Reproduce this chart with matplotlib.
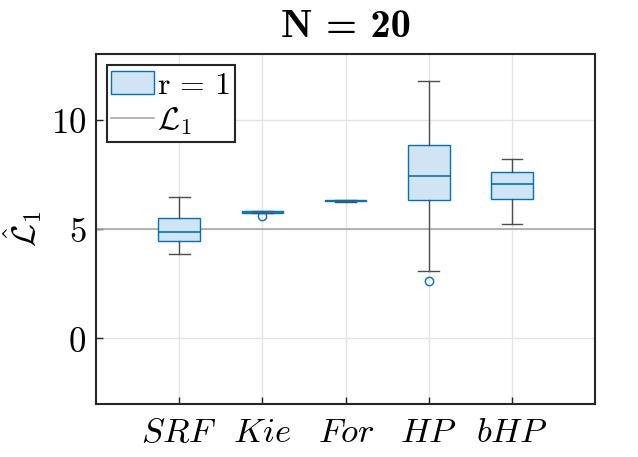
import matplotlib
matplotlib.use("Agg")
import matplotlib.pyplot as plt
from matplotlib.patches import Patch
from matplotlib.lines import Line2D

plt.rcParams['mathtext.fontset'] = 'cm'
plt.rcParams['font.family'] = ['DejaVu Serif']

categories = ['SRF', 'Kie', 'For', 'HP', 'bHP']
whislo = [3.86, 5.72, 6.25, 3.08, 5.21]
q1 = [4.47, 5.74, 6.27, 6.32, 6.36]
med = [4.88, 5.77, 6.29, 7.42, 7.05]
q3 = [5.49, 5.80, 6.31, 8.82, 7.61]
whishi = [6.47, 5.82, 6.33, 11.74, 8.18]
fliers = [[], [5.6], [], [2.6], []]
ref_value = 5.0
yticks = [0, 5, 10]

blue = '#0072BD'
face = (0.82, 0.894, 0.953)

fig = plt.figure(figsize=(6.38, 4.57), dpi=100)
ax = fig.add_axes([0.1505, 0.116, 0.7825, 0.766])

stats = []
for i, c in enumerate(categories):
    stats.append(dict(label=c, whislo=whislo[i], q1=q1[i], med=med[i], q3=q3[i],
                      whishi=whishi[i], fliers=fliers[i]))

ax.grid(True, color='#e3e3e8', linewidth=1.0, zorder=0)
ax.set_axisbelow(True)

ax.axhline(ref_value, color='#a8a8a8', linewidth=1.2, zorder=1)

ax.bxp(stats, positions=range(1, 6), widths=0.5, patch_artist=True,
       boxprops=dict(facecolor=face, edgecolor=blue, linewidth=1.0),
       medianprops=dict(color=blue, linewidth=1.2),
       whiskerprops=dict(color='#4d4d4d', linewidth=1.0),
       capprops=dict(color='#4d4d4d', linewidth=1.0),
       flierprops=dict(marker='o', markerfacecolor='none', markeredgecolor=blue,
                       markersize=6, markeredgewidth=1.0),
       capwidths=0.25, zorder=3)

ax.set_xlim(0, 6)
ax.set_ylim(-3, 13)
ax.set_xticks(range(1, 6))
ax.set_xticklabels(['$' + c + '$' for c in categories], fontsize=25)
ax.set_yticks(yticks)
ax.set_yticklabels(['$%d$' % v for v in yticks], fontsize=25)
ax.tick_params(direction='in', length=5, width=1.0, color='#222222')
ax.tick_params(axis='y', pad=7)
ax.tick_params(axis='x', pad=8)
for s in ax.spines.values():
    s.set_linewidth(1.5)
    s.set_color('#262626')

ax.set_ylabel(r'$\hat{\mathcal{L}}_1$', fontsize=24)
ax.yaxis.set_label_coords(-0.105, 0.5)
ax.set_title('N = 20', fontsize=29, pad=12, family=['cmb10', 'DejaVu Serif'])

handles = [Patch(facecolor=face, edgecolor=blue, linewidth=1.0),
           Line2D([0], [0], color='#a8a8a8', linewidth=1.2)]
leg = ax.legend(handles, [r'$\mathrm{r\,=\,1}$', r'$\mathcal{L}_1$'], loc='upper left',
                fontsize=23, frameon=True, fancybox=False, framealpha=1,
                edgecolor='#262626', borderpad=0.15, handlelength=1.35,
                handleheight=0.75,
                handletextpad=0.08, labelspacing=0.15, borderaxespad=0.0,
                bbox_to_anchor=(0.021, 0.969))
leg.get_frame().set_linewidth(1.5)

fig.savefig('out.png', dpi=100)
